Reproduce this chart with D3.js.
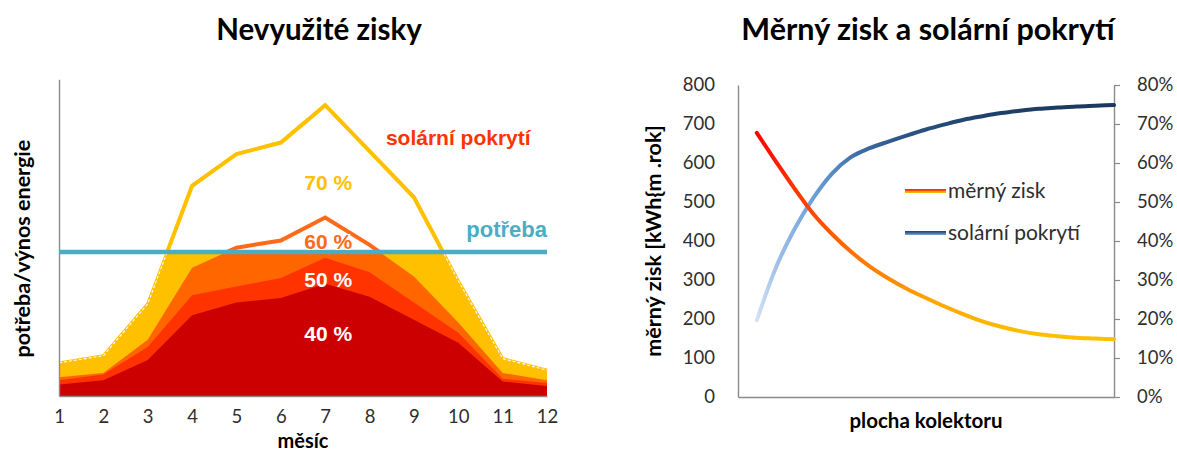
<!DOCTYPE html>
<html>
<head>
<meta charset="utf-8">
<script src="https://cdn.jsdelivr.net/npm/d3@7"></script>
<style>
  html, body { margin: 0; padding: 0; background: #fff; }
  svg { display: block; }
</style>
</head>
<body>
<svg id="chart" width="1177" height="453"></svg>
<script>
// ---- Left panel: monthly solar gains for four coverage levels against a flat demand ----
const months = [1, 2, 3, 4, 5, 6, 7, 8, 9, 10, 11, 12];
const demand = 100;
const gain40 = [8, 11, 25, 56, 65, 68, 78, 69, 53, 37, 10, 7];
const gain50 = [11, 15, 34, 70, 76, 82, 96, 86, 65, 44, 12, 9];
const gain60 = [13, 16, 39, 89, 103, 108, 124, 105, 83, 51, 16, 11];
const gain70 = [23, 28, 64, 146, 168, 176, 202, 170, 138, 80, 26, 18];
const coverageLabels = ["40 %", "50 %", "60 %", "70 %"];

// ---- Right panel: specific yield and solar fraction vs. collector area ----
const collectorArea = [1, 2, 3, 4, 5, 6, 7, 8, 9, 10, 11, 12, 13, 14, 15, 16, 17, 18, 19, 20];
const specificGain = [677, 605, 535, 470, 418, 373, 335, 304, 277, 254, 232, 212, 194, 180, 169, 161, 156, 152, 150, 148];
const solarFraction = [0.197, 0.33, 0.43, 0.51, 0.573, 0.615, 0.638, 0.655, 0.671, 0.686, 0.699, 0.711, 0.720, 0.728, 0.734, 0.739, 0.742, 0.745, 0.747, 0.749];
const gainTicks = [0, 100, 200, 300, 400, 500, 600, 700, 800];
const fractionTicks = [0, 0.1, 0.2, 0.3, 0.4, 0.5, 0.6, 0.7, 0.8];

const SANS = "Lato, 'Open Sans', sans-serif";
const ARIAL = "'Liberation Sans', Arial, sans-serif";
const AXIS_GREY = "#8a8a8a";
const TEXT_DARK = "#2e2e2e";

const svg = d3.select("#chart");
const defs = svg.append("defs");

// ================= Left panel =================
const xM = d3.scaleLinear().domain([1, 12]).range([59, 547]);
const yE = d3.scaleLinear().domain([0, 220]).range([396, 79.2]);

const left = svg.append("g");

// clip regions above and below the demand level
defs.append("clipPath").attr("id", "belowDemand")
  .append("rect")
  .attr("x", xM(1)).attr("y", yE(demand))
  .attr("width", xM(12) - xM(1)).attr("height", yE(0) - yE(demand) + 2);
defs.append("clipPath").attr("id", "aboveDemand")
  .append("rect")
  .attr("x", xM(1) - 4).attr("y", 0)
  .attr("width", xM(12) - xM(1) + 8).attr("height", yE(demand));

const series = [
  { values: gain70, fill: "#FFC000" },
  { values: gain60, fill: "#FF6600" },
  { values: gain50, fill: "#FF3300" },
  { values: gain40, fill: "#CC0000" }
];

const area = d3.area()
  .x((d, i) => xM(months[i]))
  .y0(yE(0))
  .y1(d => yE(d));
const line = d3.line()
  .x((d, i) => xM(months[i]))
  .y(d => yE(d));

// used part of each gain curve (up to the demand)
left.append("g").attr("clip-path", "url(#belowDemand)")
  .selectAll("path").data(series).join("path")
  .attr("d", s => area(s.values))
  .attr("fill", s => s.fill);

// 70 % curve outline
left.append("path")
  .attr("d", line(gain70))
  .attr("fill", "none")
  .attr("stroke", "#FFC000")
  .attr("stroke-width", 3)
  .attr("stroke-linejoin", "miter");
left.append("path")
  .attr("clip-path", "url(#belowDemand)")
  .attr("d", line(gain70))
  .attr("fill", "none")
  .attr("stroke", "#ffffff")
  .attr("stroke-width", 1.1)
  .attr("stroke-dasharray", "3,2");

// unused gains above the demand level
left.append("path")
  .attr("clip-path", "url(#aboveDemand)")
  .attr("d", line(gain70))
  .attr("fill", "none")
  .attr("stroke", "#FFC000")
  .attr("stroke-width", 4);
left.append("path")
  .attr("clip-path", "url(#aboveDemand)")
  .attr("d", line(gain60))
  .attr("fill", "none")
  .attr("stroke", "#FF6A1A")
  .attr("stroke-width", 4);

// axes
left.append("g")
  .attr("transform", `translate(${xM(1)},0)`)
  .call(d3.axisLeft(yE).tickValues([]).tickSizeOuter(0))
  .call(g => g.select(".domain").attr("stroke", AXIS_GREY).attr("stroke-width", 1.4));

const monthAxis = left.append("g")
  .attr("transform", `translate(0,${yE(0)})`)
  .call(d3.axisBottom(xM).tickValues(months).tickFormat(d3.format("d")).tickSize(0).tickSizeOuter(0).tickPadding(14));
monthAxis.select(".domain").attr("stroke", AXIS_GREY).attr("stroke-width", 1.6);
monthAxis.selectAll("text")
  .attr("font-family", SANS).attr("font-size", 18.5).attr("fill", TEXT_DARK);

// demand line
left.append("line")
  .attr("x1", xM(1)).attr("x2", xM(12))
  .attr("y1", yE(demand)).attr("y2", yE(demand))
  .attr("stroke", "#4BACC6")
  .attr("stroke-width", 4.5);

// annotations
left.append("text")
  .attr("x", xM(12)).attr("y", yE(demand) - 15)
  .attr("text-anchor", "end")
  .attr("font-family", ARIAL).attr("font-weight", "bold").attr("font-size", 22)
  .attr("fill", "#4BACC6")
  .text("potřeba");

left.append("text")
  .attr("x", xM(10)).attr("y", yE(174))
  .attr("text-anchor", "middle")
  .attr("font-family", ARIAL).attr("font-weight", "bold").attr("font-size", 21)
  .attr("fill", "#FF3300")
  .text("solární pokrytí");

const labelStyle = [
  { text: coverageLabels[3], v: 143, fill: "#FFC000", halo: false },
  { text: coverageLabels[2], v: 102, fill: "#FF6A1A", halo: true },
  { text: coverageLabels[1], v: 76, fill: "#ffffff", halo: false },
  { text: coverageLabels[0], v: 38, fill: "#ffffff", halo: false }
];
left.selectAll("text.cov").data(labelStyle).join("text")
  .attr("class", "cov")
  .attr("x", xM(7) + 3).attr("y", d => yE(d.v))
  .attr("text-anchor", "middle")
  .attr("font-family", ARIAL).attr("font-weight", "bold").attr("font-size", 21)
  .attr("fill", d => d.fill)
  .attr("stroke", d => d.halo ? "#ffffff" : "none")
  .attr("stroke-width", d => d.halo ? 2 : 0)
  .attr("paint-order", "stroke")
  .text(d => d.text);

// titles
left.append("text")
  .attr("x", 319).attr("y", 40)
  .attr("text-anchor", "middle")
  .attr("font-family", SANS).attr("font-weight", "bold").attr("font-size", 29.5)
  .attr("fill", "#000")
  .text("Nevyužité zisky");
left.append("text")
  .attr("transform", `translate(30,${(yE(0) + yE(220)) / 2 + 11}) rotate(-90)`)
  .attr("text-anchor", "middle")
  .attr("font-family", SANS).attr("font-weight", "bold").attr("font-size", 21.5)
  .attr("fill", "#000")
  .text("potřeba/výnos energie");
left.append("text")
  .attr("x", xM(6.5)).attr("y", 448)
  .attr("text-anchor", "middle")
  .attr("font-family", SANS).attr("font-weight", "bold").attr("font-size", 20)
  .attr("fill", "#000")
  .text("měsíc");

// ================= Right panel =================
const xA = d3.scaleLinear().domain([0, 20]).range([738, 1114]);
const yG = d3.scaleLinear().domain([0, 800]).range([397, 85]);
const yF = d3.scaleLinear().domain([0, 0.8]).range([397, 85]);

const right = svg.append("g");

// colour ramps along the collector-area axis
const gainGrad = defs.append("linearGradient").attr("id", "gainGrad")
  .attr("gradientUnits", "userSpaceOnUse")
  .attr("x1", xA(1)).attr("x2", xA(20)).attr("y1", 0).attr("y2", 0);
[[0, "#FF0000"], [0.12, "#FF3A00"], [0.3, "#FF7A00"], [0.5, "#FFA800"], [0.75, "#FFBE00"], [1, "#FFC000"]]
  .forEach(([o, c]) => gainGrad.append("stop").attr("offset", o).attr("stop-color", c));

const fracGrad = defs.append("linearGradient").attr("id", "fracGrad")
  .attr("gradientUnits", "userSpaceOnUse")
  .attr("x1", xA(1)).attr("x2", xA(20)).attr("y1", 0).attr("y2", 0);
[[0, "#D3E2F5"], [0.06, "#9DBFE8"], [0.16, "#6C9FD8"], [0.28, "#3E6EA5"], [0.42, "#2A5385"], [0.65, "#1F4068"], [1, "#1B385E"]]
  .forEach(([o, c]) => fracGrad.append("stop").attr("offset", o).attr("stop-color", c));

const legGainGrad = defs.append("linearGradient").attr("id", "legGainGrad")
  .attr("x1", 0).attr("x2", 0).attr("y1", 0).attr("y2", 1);
[[0, "#FF2000"], [0.45, "#FF5000"], [0.6, "#FF9A00"], [1, "#FFC000"]]
  .forEach(([o, c]) => legGainGrad.append("stop").attr("offset", o).attr("stop-color", c));
const legFracGrad = defs.append("linearGradient").attr("id", "legFracGrad")
  .attr("x1", 0).attr("x2", 0).attr("y1", 0).attr("y2", 1);
[[0, "#1F4068"], [0.5, "#3B6BA5"], [1, "#7FA8DA"]]
  .forEach(([o, c]) => legFracGrad.append("stop").attr("offset", o).attr("stop-color", c));

// axes
const gAxis = right.append("g")
  .attr("transform", `translate(${xA(0)},0)`)
  .call(d3.axisLeft(yG).tickValues(gainTicks).tickSize(0).tickSizeOuter(0).tickPadding(23));
gAxis.select(".domain").attr("stroke", AXIS_GREY).attr("stroke-width", 1.4);
gAxis.selectAll("text").attr("font-family", SANS).attr("font-size", 18.5).attr("fill", TEXT_DARK);

const fAxis = right.append("g")
  .attr("transform", `translate(${xA(20)},0)`)
  .call(d3.axisRight(yF).tickValues(fractionTicks).tickFormat(d3.format(".0%")).tickSize(6).tickSizeOuter(0).tickPadding(17));
fAxis.select(".domain").attr("stroke", AXIS_GREY).attr("stroke-width", 1.4);
fAxis.selectAll("line").attr("stroke", AXIS_GREY).attr("stroke-width", 1.2);
fAxis.selectAll("text").attr("font-family", SANS).attr("font-size", 18.5).attr("fill", TEXT_DARK);

const aAxis = right.append("g")
  .attr("transform", `translate(0,${yG(0)})`)
  .call(d3.axisBottom(xA).tickValues([]).tickSizeOuter(0));
aAxis.select(".domain").attr("stroke", AXIS_GREY).attr("stroke-width", 1.4);

// curves
const fracLine = d3.line()
  .x((d, i) => xA(collectorArea[i]))
  .y(d => yF(d))
  .curve(d3.curveMonotoneX);
const gainLine = d3.line()
  .x((d, i) => xA(collectorArea[i]))
  .y(d => yG(d))
  .curve(d3.curveMonotoneX);

right.append("path")
  .attr("d", fracLine(solarFraction))
  .attr("fill", "none")
  .attr("stroke", "url(#fracGrad)")
  .attr("stroke-width", 4)
  .attr("stroke-linecap", "round");
right.append("path")
  .attr("d", gainLine(specificGain))
  .attr("fill", "none")
  .attr("stroke", "url(#gainGrad)")
  .attr("stroke-width", 4)
  .attr("stroke-linecap", "round");

// legend
const legend = [
  { name: "měrný zisk", fill: "url(#legGainGrad)", y: 191 },
  { name: "solární pokrytí", fill: "url(#legFracGrad)", y: 233 }
];
const lg = right.selectAll("g.leg").data(legend).join("g").attr("class", "leg");
lg.append("rect")
  .attr("x", 905).attr("y", d => d.y - 2).attr("width", 41).attr("height", 4)
  .attr("fill", d => d.fill);
lg.append("text")
  .attr("x", 948).attr("y", d => d.y + 7)
  .attr("font-family", SANS).attr("font-size", 21).attr("fill", TEXT_DARK)
  .text(d => d.name);

// titles
right.append("text")
  .attr("x", 928).attr("y", 40)
  .attr("text-anchor", "middle")
  .attr("font-family", SANS).attr("font-weight", "bold").attr("font-size", 30.5)
  .attr("fill", "#000")
  .text("Měrný zisk a solární pokrytí");
right.append("text")
  .attr("transform", `translate(661,${(yG(0) + yG(800)) / 2}) rotate(-90)`)
  .attr("text-anchor", "middle")
  .attr("font-family", SANS).attr("font-weight", "bold").attr("font-size", 21.5)
  .attr("fill", "#000")
  .text("měrný zisk [kWh{m .rok]");
right.append("text")
  .attr("x", xA(10)).attr("y", 428)
  .attr("text-anchor", "middle")
  .attr("font-family", SANS).attr("font-weight", "bold").attr("font-size", 20.5)
  .attr("fill", "#000")
  .text("plocha kolektoru");
</script>
</body>
</html>
